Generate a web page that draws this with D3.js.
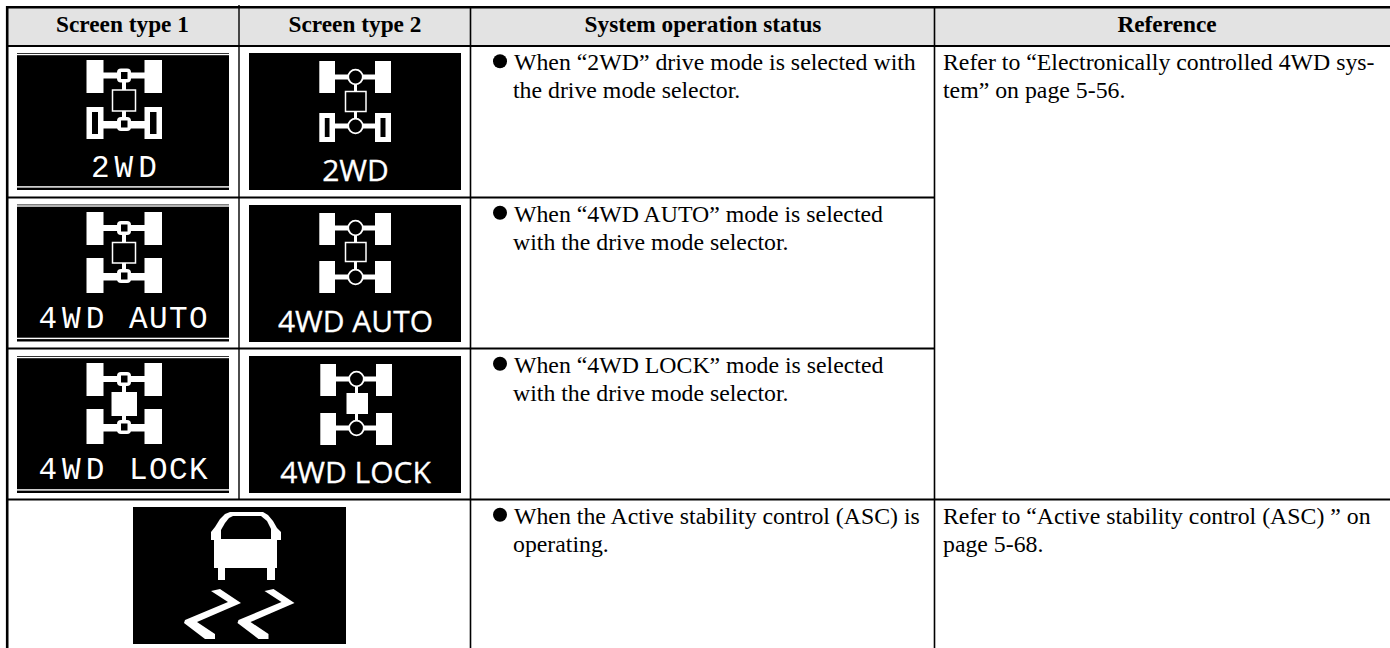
<!DOCTYPE html>
<html>
<head>
<meta charset="utf-8">
<script src="https://cdn.jsdelivr.net/npm/d3@7/dist/d3.min.js"></script>
<style>
  html, body { margin: 0; padding: 0; background: #fff; }
  svg { display: block; }
  text { font-family: "Liberation Serif", serif; fill: #000; white-space: pre; }
  .head { font-size: 23.3px; font-weight: bold; text-anchor: middle; }
  .body { font-size: 23.8px; }
  .t1 { font-family: "Liberation Mono", monospace; font-size: 31px; fill: #fff; }
  .t2 { font-family: "Open Sans", sans-serif; font-size: 30px; fill: #fff; stroke: #fff; stroke-width: 0.3px; text-anchor: middle; }
</style>
</head>
<body>
<script>
// table contents
var columns = ["Screen type 1", "Screen type 2", "System operation status", "Reference"];
var rowNames = ["2WD", "4WD AUTO", "4WD LOCK", "ASC"];
var screenOne = [["2WD"], ["4WD", "AUTO"], ["4WD", "LOCK"]];
var screenTwo = ["2WD", "4WD AUTO", "4WD LOCK"];
var statusLines = [
  ["When “2WD” drive mode is selected with", "the drive mode selector."],
  ["When “4WD AUTO” mode is selected", "with the drive mode selector."],
  ["When “4WD LOCK” mode is selected", "with the drive mode selector."],
  ["When the Active stability control (ASC) is", "operating."]
];
var referenceLines = [
  ["Refer to “Electronically controlled 4WD sys-", "tem” on page 5-56."],
  ["Refer to “Active stability control (ASC) ” on", "page 5-68."]
];

// setup
var width = 1390, height = 648;
var svg = d3.select("body").append("svg").attr("width", width).attr("height", height);

var colX = d3.scaleOrdinal().domain(columns).range([7.5, 239, 470.5, 934.5]);
var colMid = d3.scaleOrdinal().domain(columns).range([122.5, 355, 703, 1167]);
var rowY = d3.scaleOrdinal().domain(rowNames).range([46, 197.5, 348.5, 499.5]);

// header band
svg.append("rect").attr("x", 7).attr("y", 7).attr("width", width).attr("height", 39).attr("fill", "#e3e3e3");

svg.selectAll(".head").data(columns).enter().append("text")
  .attr("class", "head")
  .attr("x", d => colMid(d))
  .attr("y", 32)
  .text(d => d);

function line(x1, y1, x2, y2, w){
  svg.append("line").attr("x1", x1).attr("y1", y1).attr("x2", x2).attr("y2", y2)
    .attr("stroke", "#000").attr("stroke-width", w);
}

// icons first so the grid goes on top
var g1 = [
  {y: 53, hasRear: false, lock: false, top: 60, hub1: 75.5, mid: 90, midEnd: 111, rear: 107, hub2: 124},
  {y: 204.5, hasRear: true, lock: false, top: 212, hub1: 228, mid: 242.5, midEnd: 263, rear: 258, hub2: 276},
  {y: 356, hasRear: true, lock: true, top: 363, hub1: 379, mid: 392, midEnd: 416, rear: 409, hub2: 427}
];
var textY1 = [177, 328, 479];
var wordX1 = [[91], [38.5, 129], [38.5, 129]];

var g2 = [
  {y: 53, hasRear: false, lock: false, top: 61, hub1: 77, mid: 91.5, midEnd: 111.5, rear: 113, hub2: 126, shift: 0},
  {y: 205, hasRear: true, lock: false, top: 213, hub1: 228, mid: 242.5, midEnd: 261.5, rear: 261, hub2: 277, shift: 0},
  {y: 356, hasRear: true, lock: true, top: 364, hub1: 379, mid: 393, midEnd: 414, rear: 413, hub2: 428, shift: 1}
];
var textY2 = [181, 332, 483];

function wheel(g, x, y, w, h, solid){
  g.append("rect").attr("x", x).attr("y", y).attr("width", w).attr("height", h).attr("fill", "#fff");
  if(!solid) g.append("rect").attr("x", x + 5.5).attr("y", y + 5).attr("width", w - 11).attr("height", h - 10).attr("fill", "#000");
}

// screen type 1 icons, square hub
g1.forEach(function(d, i){
  var g = svg.append("g");
  g.append("rect").attr("x", 17).attr("y", d.y).attr("width", 212).attr("height", 137).attr("fill", "#000");
  g.append("rect").attr("x", 17).attr("y", d.y + 0.8).attr("width", 212).attr("height", 1.4).attr("fill", "#fff");
  g.append("rect").attr("x", 17).attr("y", d.y + 133.2).attr("width", 212).attr("height", 1.4).attr("fill", "#fff");
  // driveshaft and axles
  g.append("rect").attr("x", 122).attr("y", d.hub1).attr("width", 4).attr("height", d.hub2 - d.hub1).attr("fill", "#fff");
  [d.hub1, d.hub2].forEach(function(c){
    g.append("rect").attr("x", 100).attr("y", c - 3).attr("width", 48).attr("height", c == d.hub1 ? 6 : 7.5).attr("fill", "#fff");
  });
  wheel(g, 86.5, d.top, 17, 33, true);
  wheel(g, 144.5, d.top, 17.5, 33, true);
  wheel(g, 86.5, d.rear, 17, d.hasRear ? 35 : 32, d.hasRear);
  wheel(g, 144.5, d.rear, 17.5, d.hasRear ? 35 : 32, d.hasRear);
  // hubs
  [d.hub1, d.hub2].forEach(function(c){
    g.append("rect").attr("x", 117).attr("y", c - 7).attr("width", 14).attr("height", 14).attr("rx", 4).attr("fill", "#fff");
    g.append("rect").attr("x", 121).attr("y", c - 3.5).attr("width", 6.5).attr("height", 7).attr("fill", "#000");
  });
  // centre box
  if(d.lock){
    g.append("rect").attr("x", 111.5).attr("y", d.mid).attr("width", 25.5).attr("height", d.midEnd - d.mid).attr("fill", "#fff");
  } else {
    g.append("rect").attr("x", 112.5).attr("y", d.mid).attr("width", 23).attr("height", d.midEnd - d.mid)
      .attr("fill", "#000").attr("stroke", "#fff").attr("stroke-width", 1.5);
  }
  // first word is spaced wider than the second on the screen font
  screenOne[i].forEach(function(word, k){
    g.append("text").attr("class", "t1").attr("x", wordX1[i][k]).attr("y", textY1[i])
      .attr("letter-spacing", k == 0 ? 5 : 1.4).text(word);
  });
});

// screen type 2 icons, round hub
g2.forEach(function(d, i){
  var g = svg.append("g");
  var s = d.shift;
  g.append("rect").attr("x", 249).attr("y", d.y).attr("width", 212).attr("height", 137).attr("fill", "#000");
  g.append("rect").attr("x", 354 + s).attr("y", d.hub1).attr("width", 3).attr("height", d.hub2 - d.hub1).attr("fill", "#fff");
  [d.hub1, d.hub2].forEach(function(c){
    g.append("rect").attr("x", 332 + s).attr("y", c - 2.5).attr("width", 46).attr("height", 5).attr("fill", "#fff");
  });
  wheel(g, 319.3 + s, d.top, 15.7, 32, true);
  wheel(g, 375 + s, d.top, 16, 32, true);
  wheel(g, 319.3 + s, d.rear, 15.7, i == 0 ? 29 : 32, d.hasRear);
  wheel(g, 375 + s, d.rear, 16, i == 0 ? 29 : 32, d.hasRear);
  [d.hub1, d.hub2].forEach(function(c){
    g.append("circle").attr("cx", 355.5 + s).attr("cy", c).attr("r", 7.3)
      .attr("fill", "#000").attr("stroke", "#fff").attr("stroke-width", 1.8);
  });
  if(d.lock){
    g.append("rect").attr("x", 345.5 + s).attr("y", d.mid).attr("width", 21.5).attr("height", d.midEnd - d.mid).attr("fill", "#fff");
  } else {
    g.append("rect").attr("x", 345.5).attr("y", d.mid).attr("width", 20.5).attr("height", d.midEnd - d.mid)
      .attr("fill", "#000").attr("stroke", "#fff").attr("stroke-width", 1.5);
  }
  g.append("text").attr("class", "t2").attr("x", 355.5).attr("y", textY2[i]).text(screenTwo[i]);
});

// ASC icon
var asc = svg.append("g").attr("transform", "translate(133,507)");
asc.append("rect").attr("width", 213).attr("height", 137).attr("fill", "#000");
var carBody = [[78,33],[78,25],[82,20],[87,12],[92,7],[97,5],[130,5],[135,8],[140,14],[144,21],[148,25],[148,33],[144,33],[144,61],[142,61],[142,73],[134,73],[134,61],[92,61],[92,73],[85,73],[85,61],[81,61],[81,33]];
var carGlass = [[88,32],[88,23],[92,16],[96,11],[100,9],[128,9],[134,14],[138,22],[138,32]];
var skid = [[78,84],[87,82],[108,96],[64,115],[82,127],[82,132],[72,132],[51,116],[52,113],[95,95]];
var lineGen = d3.line();
asc.append("path").attr("d", lineGen(carBody) + "Z").attr("fill", "#fff");
asc.append("path").attr("d", lineGen(carGlass) + "Z").attr("fill", "#000");
[0, 53.5].forEach(function(dx){
  asc.append("path").attr("d", lineGen(skid) + "Z").attr("fill", "#fff").attr("transform", "translate(" + dx + ",0)");
});

// status text with bullets
statusLines.forEach(function(lines, i){
  var top = rowY(rowNames[i]);
  svg.append("circle").attr("cx", 500).attr("cy", top + 15.3).attr("r", 7).attr("fill", "#000");
  lines.forEach(function(t, j){
    svg.append("text").attr("class", "body").attr("x", j == 0 ? 514 : 513).attr("y", top + 24.3 + j * 28).text(t);
  });
});

// reference text, rows 1-3 share one cell
[rowNames[0], rowNames[3]].forEach(function(r, i){
  referenceLines[i].forEach(function(t, j){
    svg.append("text").attr("class", "body").attr("x", 943).attr("y", rowY(r) + 24.3 + j * 28).text(t);
  });
});

// grid
line(7.2, 6, 7.2, height, 2.6);
line(6, 7.2, width, 7.2, 2.6);
line(6, rowY(rowNames[0]), width, rowY(rowNames[0]), 2);
line(6, rowY(rowNames[1]), 934, rowY(rowNames[1]), 2);
line(6, rowY(rowNames[2]), 934, rowY(rowNames[2]), 2);
line(6, rowY(rowNames[3]), width, rowY(rowNames[3]), 2);
line(colX(columns[1]), 5, colX(columns[1]), 499, 1.4);
line(colX(columns[2]), 6, colX(columns[2]), height, 1.6);
line(colX(columns[3]), 6, colX(columns[3]), height, 1.6);
</script>
</body>
</html>
